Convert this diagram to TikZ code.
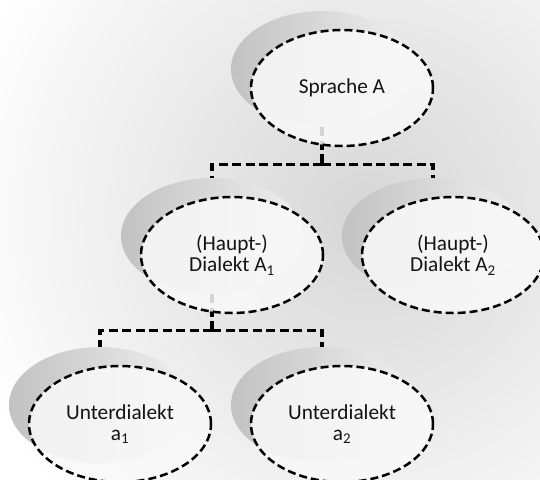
\documentclass[tikz,border=0pt]{standalone}
\usepackage{fontspec}
\setmainfont{Carlito}
\usepackage{tikz}
\usetikzlibrary{shapes.geometric}

\begin{document}
\begin{tikzpicture}[
	x=1pt, y=-1pt,
	back/.style={ellipse, minimum width=182, minimum height=116, inner sep=0,
		left color=gray!48, right color=gray!12, shading angle=90},
	blob/.style={ellipse, draw, line width=2.5, dash pattern=on 8 off 4,
		minimum width=182, minimum height=116, inner sep=0, fill=gray!5, fill opacity=0.86,
		text opacity=1, text=black!92, align=center, font=\fontsize{21.3}{21.5}\selectfont},
	link/.style={line width=3.2, dash pattern=on 9 off 4.5}
]
\useasboundingbox (0,0) rectangle (540,479);
% soft grey backdrop
\begin{scope}
\clip (0,0) rectangle (540,479);
\fill[white] (0,0) rectangle (540,479);
\shade[inner color=gray!32, outer color=white] (365,215) circle (420);
\end{scope}

% grey shadow discs behind each ellipse
\node[back] (s0) at (322,69) {};
\node[back] (s1) at (212,236) {};
\node[back] (s2) at (433,236) {};
\node[back] (s3) at (100,405) {};
\node[back] (s4) at (322,405) {};

% tree links
\draw[link] (s0.south) -- ++(0,37) coordinate (bar0);
\draw[link] (bar0) -| (s1.north);
\draw[link] (bar0) -| (s2.north);
\draw[link] (s1.south) -- ++(0,36) coordinate (bar1);
\draw[link] (bar1) -| (s3.north);
\draw[link] (bar1) -| (s4.north);

\node[blob] (sprache) at ([shift={(20,19)}]s0.center) {Sprache A};
\node[blob] (dialA1) at ([shift={(20,19)}]s1.center) {(Haupt-)\\Dialekt A\textsubscript{1}};
\node[blob] (dialA2) at ([shift={(20,19)}]s2.center) {(Haupt-)\\Dialekt A\textsubscript{2}};
\node[blob] (unter1) at ([shift={(20,19)}]s3.center) {Unterdialekt\\a\textsubscript{1}};
\node[blob] (unter2) at ([shift={(20,19)}]s4.center) {Unterdialekt\\a\textsubscript{2}};
\end{tikzpicture}
\end{document}
